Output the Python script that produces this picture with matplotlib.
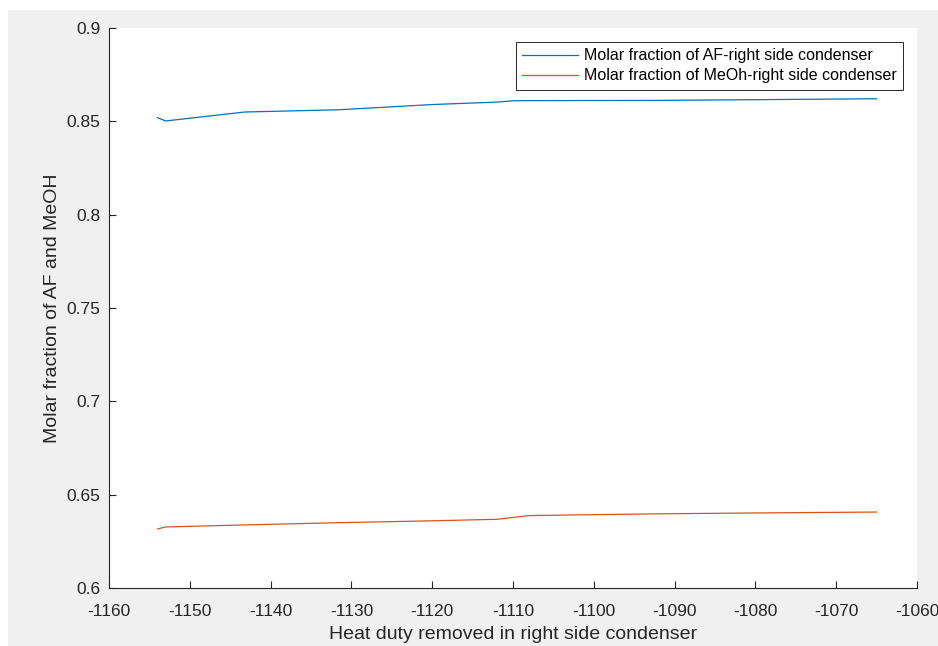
import matplotlib
matplotlib.use("Agg")
import matplotlib.pyplot as plt
from matplotlib.patches import Rectangle

# ── Data ──────────────────────────────────────────────────────────────────────
heat_duty = [-1154, -1153, -1143.2, -1131.5, -1120, -1112, -1110, -1108,
             -1093, -1080, -1065]
af_frac = [0.8520, 0.8502, 0.8550, 0.8562, 0.8590, 0.8603, 0.8610, 0.8611,
           0.8612, 0.8616, 0.8621]
meoh_frac = [0.6316, 0.6327, 0.6338, 0.6350, 0.6360, 0.6368, 0.6378, 0.6388,
             0.6397, 0.6402, 0.6407]

x_ticks = [-1160, -1150, -1140, -1130, -1120, -1110, -1100, -1090, -1080, -1070, -1060]
y_ticks = [0.6, 0.65, 0.7, 0.75, 0.8, 0.85, 0.9]
y_labels = ["0.6", "0.65", "0.7", "0.75", "0.8", "0.85", "0.9"]

# ── Style ─────────────────────────────────────────────────────────────────────
C_BLUE = "#0072BD"
C_ORANGE = "#D95319"
C_AX = "#262626"
C_BG = "#F0F0F0"
W, H = 938, 646

plt.rcParams["font.family"] = ["Liberation Sans", "DejaVu Sans"]
plt.rcParams["axes.unicode_minus"] = False

fig = plt.figure(figsize=(W / 100, H / 100), dpi=100)
fig.patch.set_facecolor("white")
# gray MATLAB figure area (leaves a thin white strip on left/top)
bg = Rectangle((8 / W, 0), 1 - 8 / W, (H - 10) / H,
               transform=fig.transFigure, facecolor=C_BG,
               edgecolor="none", zorder=-10)
fig.add_artist(bg)

ax = fig.add_axes([109 / W, (H - 588) / H, (917 - 109) / W, (588 - 28) / H])
ax.set_facecolor("white")

ax.plot(heat_duty, af_frac, color=C_BLUE, linewidth=0.9,
        label="Molar fraction of AF-right side condenser")
ax.plot(heat_duty, meoh_frac, color=C_ORANGE, linewidth=0.9,
        label="Molar fraction of MeOh-right side condenser")

ax.set_xlim(-1160, -1060)
ax.set_ylim(0.6, 0.9)
ax.set_xticks(x_ticks)
ax.set_yticks(y_ticks)
ax.set_yticklabels(y_labels)

for side in ["top", "right"]:
    ax.spines[side].set_visible(False)
for side in ["left", "bottom"]:
    ax.spines[side].set_color(C_AX)
    ax.spines[side].set_linewidth(0.8)
ax.tick_params(direction="in", length=5, width=0.8, color=C_AX,
               labelcolor=C_AX, labelsize=12.5)
ax.tick_params(axis="x", pad=11.5)
ax.tick_params(axis="y", pad=6)

ax.set_xlabel("Heat duty removed in right side condenser", fontsize=14,
              color=C_AX, labelpad=5)
ax.set_ylabel("Molar fraction of AF and MeOH", fontsize=14, color=C_AX,
              labelpad=4)

leg = ax.legend(loc="upper right", bbox_to_anchor=(903 / W, (H - 42) / H),
                bbox_transform=fig.transFigure, fontsize=11.5, frameon=True,
                fancybox=False, framealpha=1, edgecolor=C_AX,
                borderpad=0.4, labelspacing=0.3, handlelength=3.5,
                handletextpad=0.37, borderaxespad=0)
leg.get_frame().set_linewidth(0.7)

fig.savefig("out.png", dpi=100, facecolor="white")
